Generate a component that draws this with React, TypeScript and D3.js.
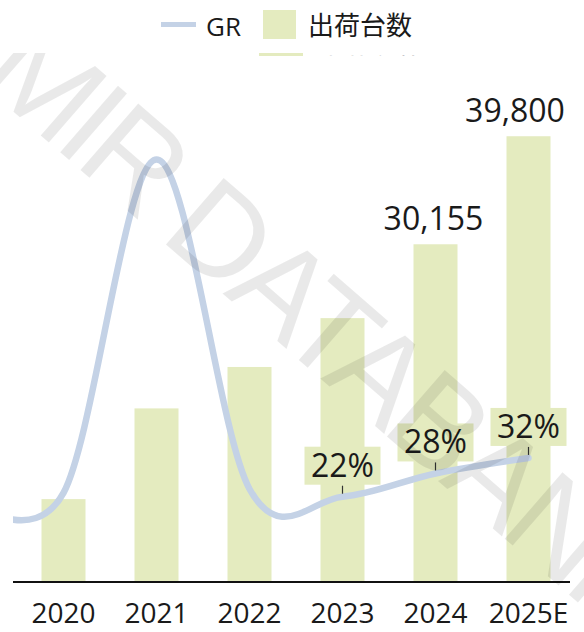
import React from "react";
import * as d3 from "d3";

// Shipments (units) per year
const years = ["2020", "2021", "2022", "2023", "2024", "2025E"];
const shipments = [7400, 15500, 19200, 23560, 30155, 39800];
const shipmentLabelYears = ["2024", "2025E"];

// Growth rate (%) – the series starts one year before the first bar
const grYears = ["2019", "2020", "2021", "2022", "2023", "2024", "2025E"];
const grValues = [21, 23, 109, 24, 22, 28, 32];
const grLabelYears = ["2023", "2024", "2025E"];

const legendLabels = ["GR", "出荷台数"];
const watermark = "MIR DATABANK";

const W = 584;
const H = 632;
const BAR_COLOR = "#e4ebbf";
const LINE_COLOR = "#c4d2e6";
const TEXT_COLOR = "#1a1a1a";
const NUM_FONT = "'Open Sans', 'Noto Sans', sans-serif";
const CJK_FONT = "'Noto Sans CJK JP', 'Noto Sans', sans-serif";

export default function App() {
  const plotLeft = 13;
  const plotRight = 570;
  const baseY = 582;
  const topY = 78;

  const x = d3.scaleBand<string>().domain(years).range([17, 575]).padding(0);
  const step = x.step();
  const barW = 44;
  const cx = (y: string) => {
    if (years.includes(y)) return (x(y) as number) + x.bandwidth() / 2;
    // a year before the first category sits one step to the left
    const i = grYears.indexOf(y) - grYears.indexOf(years[0]);
    return (x(years[0]) as number) + x.bandwidth() / 2 + i * step;
  };

  const y = d3.scaleLinear().domain([0, 45000]).range([baseY, topY]);
  const yGr = d3.scaleLinear().domain([0, 130]).range([baseY, topY]);

  const line = d3
    .line<number>()
    .x((_, i) => cx(grYears[i]))
    .y((d) => yGr(d))
    .curve(d3.curveCardinal.tension(0));

  const fmt = d3.format(",");

  return (
    <svg
      width={W}
      height={H}
      style={{ position: "absolute", left: 0, top: 0, background: "#fff" }}
    >
      <defs>
        <clipPath id="plotClip">
          <rect x={plotLeft} y={0} width={plotRight - plotLeft + 14} height={H} />
        </clipPath>
        <clipPath id="row2Clip">
          <rect x={0} y={53} width={W} height={3} />
        </clipPath>
        <clipPath id="wmClip">
          <rect x={0} y={53} width={W} height={H - 53} />
        </clipPath>
      </defs>

      {/* partially hidden second legend row */}
      <g clipPath="url(#row2Clip)">
        <rect x={259} y={53} width={44} height={28} fill={BAR_COLOR} />
        <text
          x={318}
          y={78}
          fontFamily={CJK_FONT}
          fontSize={26}
          fill="#999"
        >
          {legendLabels[1]}
        </text>
      </g>

      {/* bars */}
      {years.map((yr, i) => (
        <rect
          key={yr}
          x={cx(yr) - barW / 2}
          y={y(shipments[i])}
          width={barW}
          height={baseY - y(shipments[i])}
          fill={BAR_COLOR}
        />
      ))}

      {/* growth line */}
      <path
        d={line(grValues) || ""}
        fill="none"
        stroke={LINE_COLOR}
        strokeWidth={6.5}
        strokeLinecap="round"
        clipPath="url(#plotClip)"
      />

      {/* x axis */}
      <line
        x1={plotLeft}
        x2={plotRight}
        y1={baseY}
        y2={baseY}
        stroke="#111"
        strokeWidth={2.2}
      />
      {years.map((yr) => (
        <text
          key={yr}
          x={cx(yr)}
          y={623}
          textAnchor="middle"
          fontFamily={NUM_FONT}
          fontSize={28}
          fill={TEXT_COLOR}
        >
          {yr}
        </text>
      ))}

      {/* shipment value labels */}
      {years.map((yr, i) =>
        shipmentLabelYears.includes(yr) ? (
          <text
            key={"v" + yr}
            x={Math.min(cx(yr) - 2, plotRight - 55)}
            y={y(shipments[i]) - 14}
            textAnchor="middle"
            fontFamily={NUM_FONT}
            fontSize={32}
            fill={TEXT_COLOR}
          >
            {fmt(shipments[i])}
          </text>
        ) : null
      )}

      {/* growth labels */}
      {grYears.map((yr, i) => {
        if (!grLabelYears.includes(yr)) return null;
        const px = cx(yr);
        const py = yGr(grValues[i]);
        const boxBottom = py - 12;
        return (
          <g key={"g" + yr}>
            <line
              x1={px}
              x2={px}
              y1={boxBottom + 1}
              y2={py - 3}
              stroke="#333"
              strokeWidth={1.2}
            />
            <rect
              x={px - 38}
              y={boxBottom - 38}
              width={76}
              height={38}
              fill={BAR_COLOR}
            />
            <text
              x={px}
              y={boxBottom - 8}
              textAnchor="middle"
              fontFamily={NUM_FONT}
              fontSize={32}
              fill={TEXT_COLOR}
            >
              {grValues[i] + "%"}
            </text>
          </g>
        );
      })}

      {/* watermark */}
      <g clipPath="url(#wmClip)">
        <text
          transform="translate(330,328) rotate(41)"
          textAnchor="middle"
          dominantBaseline="central"
          fontFamily="'Liberation Sans', Arial, sans-serif"
          fontSize={128}
          textLength={860}
          lengthAdjust="spacing"
          fill="#000"
          fillOpacity={0.085}
        >
          {watermark}
        </text>
      </g>

      {/* legend */}
      <line
        x1={161}
        x2={196}
        y1={24.5}
        y2={24.5}
        stroke={LINE_COLOR}
        strokeWidth={5}
      />
      <text
        x={206}
        y={36}
        fontFamily={NUM_FONT}
        fontSize={26}
        fill={TEXT_COLOR}
      >
        {legendLabels[0]}
      </text>
      <rect x={263} y={10} width={33} height={29} fill={BAR_COLOR} />
      <text
        x={308}
        y={35}
        fontFamily={CJK_FONT}
        fontSize={26}
        fill={TEXT_COLOR}
      >
        {legendLabels[1]}
      </text>
    </svg>
  );
}
